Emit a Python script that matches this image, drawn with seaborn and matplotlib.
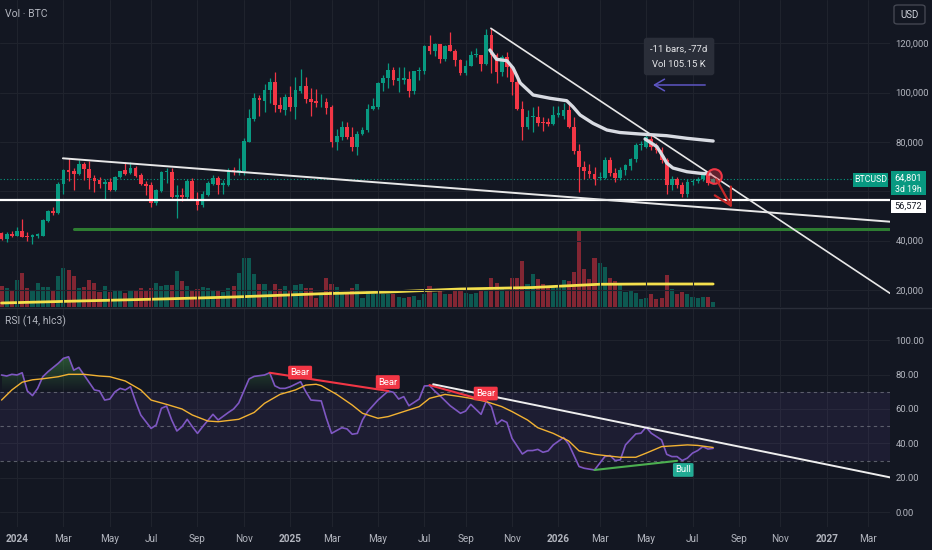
import numpy as np
import pandas as pd
import seaborn as sns
import matplotlib.pyplot as plt
import matplotlib.dates as mdates
from matplotlib.path import Path
from matplotlib.patches import PathPatch, Rectangle, FancyBboxPatch
from matplotlib.lines import Line2D

# weekly BTCUSD candles, first candle = week of 2023-12-11
first_week = '2023-12-11'

opens = [43300, 40700, 42800, 42000, 43900, 41900, 41500, 41800, 42000, 48000,
         52000, 51200, 62800, 68800, 68200, 66900, 71200, 69000, 65500, 64700,
         62800, 63900, 60700, 66000, 68500, 67300, 69600, 66600, 63100, 62500,
         55400, 60200, 67900, 68000, 57800, 58700, 57800, 64200, 56900, 54400,
         58500, 63000, 65500, 62600, 62600, 68800, 68000, 68200, 80100, 89300,
         97700, 96700, 101100, 104400, 95000, 93000, 98300, 94100, 100800, 102700,
         97400, 96600, 95700, 96300, 94300, 80100, 82200, 86000, 82100, 78000,
         83400, 84700, 93500, 94000, 103900, 106100, 109000, 104800, 105000, 105700,
         100500, 108600, 108600, 118900, 116900, 119600, 113800, 119200, 116900, 113100,
         108000, 110800, 115100, 115100, 111800, 123200, 115100, 108400, 114500, 110400,
         104300, 93500, 86000, 90100, 90100, 88100, 88000, 87400, 91100, 90400,
         93100, 86000, 76200, 69800, 68200, 67100, 65400, 65300, 72500, 67400,
         65300, 68500, 70300, 73200, 78600, 78000, 81300, 78000, 76600, 72800,
         62400, 65100, 62700, 59000, 63700, 64200, 65100, 67300, 63200]
highs = [43700, 43500, 44100, 45500, 48800, 43600, 42800, 43300, 48600, 52300,
         53500, 63900, 69000, 73400, 69300, 72700, 72000, 72300, 66500, 66000,
         64900, 65500, 66400, 68400, 71900, 71900, 70200, 67500, 64000, 63800,
         61000, 68200, 69300, 69400, 62600, 61400, 65000, 65500, 59700, 60000,
         64000, 66500, 66100, 64500, 69500, 69900, 73400, 81700, 93300, 99700,
         99000, 103500, 105800, 108400, 98200, 99300, 102800, 106200, 109500, 106500,
         101700, 101500, 99400, 97700, 95000, 85100, 88600, 88300, 86000, 84500,
         86000, 95500, 97800, 104300, 107000, 111900, 110400, 110400, 110500, 108900,
         108900, 110500, 119400, 123200, 120200, 119800, 119300, 124600, 117600, 113500,
         113400, 116700, 117900, 115400, 125600, 126100, 115900, 115300, 116300, 110900,
         107500, 96600, 93100, 94000, 94600, 90000, 89700, 94700, 94600, 95700,
         95700, 90000, 79300, 72200, 70900, 69800, 68000, 74100, 74000, 69300,
         69800, 71100, 73500, 79400, 80400, 83200, 82800, 79700, 77800, 73500,
         66200, 66000, 63600, 64800, 64800, 65900, 67200, 67800, 65500]
lows = [40300, 39600, 41500, 41700, 41300, 39900, 38500, 41200, 41900, 47700,
        50400, 50600, 59000, 64200, 60700, 66500, 64500, 60900, 59600, 61500,
        56900, 60000, 60200, 65500, 66500, 66900, 65900, 62400, 58500, 53500,
        54300, 59700, 63200, 57400, 49100, 56000, 57000, 56400, 52400, 53800,
        58000, 62600, 58800, 58800, 62200, 66600, 66800, 66800, 80000, 88600,
        90500, 92300, 95700, 92200, 92200, 91000, 92700, 89200, 99700, 95700,
        90500, 94000, 94000, 91200, 78100, 76600, 80700, 81200, 76300, 74600,
        83000, 84000, 92800, 93500, 100700, 102000, 103100, 100400, 103400, 98200,
        99600, 105300, 107500, 115700, 114800, 112000, 112700, 116800, 110800, 107300,
        107300, 110700, 114400, 108700, 111200, 108000, 103800, 106700, 106300, 98900,
        93000, 80600, 85300, 83900, 86300, 84500, 86600, 87000, 90000, 89500,
        85600, 75000, 59700, 65100, 65400, 62600, 64400, 64800, 66400, 63600,
        64500, 66700, 68600, 72000, 76600, 77500, 76900, 75500, 71500, 59000,
        60400, 61500, 57800, 57800, 62400, 63500, 64300, 62400, 62800]
closes = [40600, 42600, 42000, 43900, 41500, 41600, 42300, 42600, 48200, 52000,
          51200, 63100, 68800, 68000, 66900, 71200, 69000, 65300, 64200, 62800,
          63900, 60700, 66000, 68300, 67100, 69600, 66300, 62800, 62300, 55400,
          60500, 68000, 68200, 57800, 58700, 57800, 64200, 56900, 54400, 58800,
          63200, 65500, 62600, 63200, 68600, 68000, 68800, 80400, 89600, 97700,
          97000, 101100, 104400, 95000, 93200, 98100, 94100, 101100, 102700, 97300,
          96200, 95700, 96000, 93900, 80100, 82400, 86000, 82100, 78000, 83400,
          84700, 93500, 94700, 104000, 106100, 109000, 105000, 105800, 106000, 100500,
          108600, 109300, 118900, 116900, 119600, 113800, 118900, 116900, 113100, 108000,
          110800, 115100, 115500, 111800, 123200, 115100, 108400, 114500, 110400, 104300,
          93500, 86000, 90100, 90700, 87700, 87500, 87300, 91100, 91900, 93100,
          86000, 76200, 69800, 68200, 67000, 65100, 66000, 72500, 67400, 65300,
          68500, 70500, 73200, 78600, 79100, 82000, 78000, 76600, 72800, 62400,
          65100, 62400, 59000, 63700, 64200, 65100, 66500, 63200, 64801]
volume_k = [84, 76, 70, 108, 136, 76, 70, 96, 80, 80,
            64, 124, 156, 148, 124, 76, 80, 108, 96, 60,
            84, 60, 70, 64, 56, 70, 70, 76, 70, 78,
            96, 84, 90, 88, 144, 104, 84, 64, 72, 80,
            76, 64, 64, 60, 76, 84, 136, 196, 196, 132,
            92, 92, 64, 92, 72, 84, 68, 88, 91, 75,
            76, 36, 51, 115, 91, 80, 51, 51, 75, 91,
            36, 70, 52, 52, 51, 52, 51, 40, 36, 40,
            44, 28, 51, 84, 56, 64, 51, 52, 75, 75,
            56, 52, 56, 67, 75, 116, 96, 75, 64, 115,
            115, 184, 91, 131, 111, 91, 76, 80, 75, 107,
            104, 140, 304, 151, 111, 197, 177, 160, 117, 104,
            92, 60, 64, 56, 32, 36, 52, 32, 36, 128,
            72, 52, 60, 52, 40, 36, 40, 40, 20]

vol_ma_week = [0, 15, 31, 45, 62, 75, 89, 103, 116, 125, 138]
vol_ma_k = [16, 24, 32, 40, 53, 60, 72, 78, 91, 92, 92]

rsi_week = [0, 1, 2, 3, 4, 5, 6, 7, 8, 9, 11, 12, 13, 14, 15, 16, 18, 19, 20, 21,
            22, 23, 24, 25, 26, 27, 29, 30, 31, 32, 33, 34, 35, 36, 37, 38, 39, 41, 42, 44,
            45, 46, 47, 48, 49, 51, 52, 53, 54, 55, 56, 58, 59, 60, 62, 63, 64, 65, 66, 67,
            68, 69, 70, 71, 73, 75, 76, 77, 78, 79, 81, 82, 83, 84, 85, 87, 89, 90, 91, 93,
            94, 95, 96, 97, 98, 99, 101, 102, 103, 104, 105, 106, 107, 109, 110, 112, 113, 115, 117, 118,
            119, 120, 121, 123, 124, 125, 126, 128, 129, 130, 131, 132, 133, 134, 135, 136, 137, 138]
rsi_value = [79.8, 79.2, 80.2, 79.8, 81.1, 70.5, 67.8, 72.0, 78.8, 81.7, 86.6, 89.5, 90.4, 82.6, 84.2, 79.8, 71.1, 70.5, 65.2, 65.8,
             70.0, 72.0, 71.1, 73.0, 64.3, 56.5, 48.7, 50.7, 60.4, 61.7, 53.6, 47.2, 49.7, 54.0, 49.7, 45.8, 49.7, 56.9, 53.6, 58.0,
             60.0, 63.5, 70.5, 77.5, 79.0, 79.8, 81.1, 73.5, 72.0, 72.0, 73.0, 75.9, 70.1, 65.2, 64.7, 54.6, 45.8, 47.5, 49.1, 48.4,
             45.3, 45.8, 53.6, 58.5, 65.2, 70.5, 69.7, 65.8, 67.2, 61.9, 65.8, 73.4, 73.6, 70.5, 67.8, 61.9, 57.5, 58.8, 62.7, 56.9,
             64.7, 61.4, 51.1, 53.6, 52.2, 42.9, 33.8, 35.8, 35.8, 36.5, 34.8, 35.6, 39.1, 43.4, 39.5, 26.5, 25.5, 24.5, 32.3, 32.9,
             30.0, 30.4, 39.1, 45.5, 45.9, 49.4, 45.9, 42.0, 33.6, 32.3, 32.3, 30.0, 31.4, 34.3, 35.8, 38.1, 36.7, 37.1]
rsi_ma_week = [0, 2, 4, 6, 8, 11, 13, 16, 19, 21, 24, 27, 29, 32, 35, 37, 40, 42, 46, 49,
               51, 54, 57, 59, 61, 62, 65, 68, 70, 73, 75, 78, 81, 83, 86, 89, 91, 94, 97, 99,
               102, 104, 107, 110, 112, 115, 117, 120, 123, 125, 128, 130, 133, 135, 138]
rsi_ma_value = [65.2, 71.1, 75.6, 77.0, 77.6, 78.8, 80.2, 80.2, 79.2, 78.8, 76.3, 71.1, 65.2, 62.7, 60.0, 56.5, 53.0, 52.6, 54.0, 58.0,
                63.3, 68.5, 71.1, 73.9, 74.4, 73.6, 68.5, 62.3, 57.5, 54.6, 55.6, 58.5, 61.4, 66.2, 68.5, 67.2, 66.2, 64.3, 61.4, 58.5,
                53.6, 49.1, 45.8, 41.4, 35.6, 33.6, 32.9, 31.9, 31.9, 34.3, 38.1, 38.5, 39.1, 38.8, 37.6]

# chart drawings (x in weeks from first_week)
shallow_week = [11.9, 172.3]
shallow_price = [73380, 47680]
steep_week = [94.9, 172.3]
steep_price = [126080, 18650]
support_week = [14.1, 172.3]
support_price = [44800, 44800]
level_price = 56572
last_price = 64801
vwap_a_week = [94.7, 96.0, 98.0, 99.2, 100.6, 103.1, 106.4, 109.6, 110.8, 112.2, 114.7, 117.4, 119.9, 123.8, 129.0, 132.9, 138.0]
vwap_a_price = [117280, 113510, 112950, 109990, 103910, 99040, 97700, 96730, 94300, 90930, 87570, 84850, 83840, 83230, 82540, 81490, 80390]
vwap_b_week = [124.8, 127.1, 128.3, 129.0, 130.2, 132.9, 135.5, 137.4]
vwap_b_price = [81200, 78080, 74030, 71470, 69450, 67950, 67300, 67010]
measure_week = [137.0, 125.8]
measure_price = 103100
note_week, note_price = 131.4, 114650
circle_week, circle_price = 138.1, 66400
red_arrow_week = [138.4, 141.9]
red_arrow_price = [65800, 52400]

rsi_trend_week = [83.7, 172.3]
rsi_trend_value = [74.4, 20.2]
bear_week = [[52, 75], [83, 94]]
bear_value = [[81.1, 70.5], [73.9, 64.7]]
bear_label_week = [57.9, 74.9, 93.9]
bear_label_value = [81.2, 75.7, 69.0]
bull_week = [115, 131]
bull_value = [24.5, 29.8]
bull_label_week, bull_label_value = 132.2, 24.5

tick_dates = ['2024-01-01', '2024-03-04', '2024-05-06', '2024-07-01', '2024-09-02', '2024-11-04',
              '2025-01-06', '2025-03-03', '2025-05-05', '2025-07-07', '2025-09-01', '2025-11-03',
              '2026-01-05', '2026-03-02', '2026-05-04', '2026-07-06', '2026-09-07', '2026-11-02',
              '2027-01-04', '2027-03-01']
tick_labels = ['2024', 'Mar', 'May', 'Jul', 'Sep', 'Nov', '2025', 'Mar', 'May', 'Jul', 'Sep', 'Nov',
               '2026', 'Mar', 'May', 'Jul', 'Sep', 'Nov', '2027', 'Mar']
# 60,000 sits under the last-price labels, so it has no visible text
price_ticks = [20000, 40000, 60000, 80000, 100000, 120000]
price_tick_labels = ['20,000', '40,000', '', '80,000', '100,000', '120,000']
rsi_ticks = [0, 20, 40, 60, 80, 100]
rsi_tick_labels = ['0.00', '20.00', '40.00', '60.00', '80.00', '100.00']

sns.set_theme(style='dark')
plt.rcParams['font.family'] = ['Roboto', 'DejaVu Sans']

BG = '#131722'
GRID = '#1f232d'
TXT = '#b2b5be'
UP = '#089981'
DOWN = '#f23645'

t0 = mdates.date2num(pd.Timestamp(first_week))


def wk(w):
    return t0 + 7 * np.asarray(w, dtype=float)


W, H = 932, 550


def fx(x):
    return x / W


def fy(y):
    return 1 - y / H


def pane(x0, y0, x1, y1):
    return [fx(x0), fy(y1), (x1 - x0) / W, (y1 - y0) / H]


def gradient_fill(ax, x, y, level, edge, rgb, where):
    # fill between rsi and a level, fading out towards the level
    coll = ax.fill_between(x, y, level, where=where, interpolate=True,
                           facecolor='none', edgecolor='none')
    clip = PathPatch(Path.make_compound_path(*coll.get_paths()), transform=ax.transData,
                     facecolor='none', edgecolor='none')
    ax.add_patch(clip)
    img = np.zeros((64, 1, 4))
    img[:, 0, :3] = rgb
    img[:, 0, 3] = np.linspace(0, 0.6, 64)
    if edge < level:
        img = img[::-1]
    lo, hi = sorted((level, edge))
    im = ax.imshow(img, extent=[x.min(), x.max(), lo, hi], origin='lower',
                   aspect='auto', zorder=1, interpolation='bilinear')
    im.set_clip_path(clip)


df = pd.DataFrame({'open': opens, 'high': highs, 'low': lows, 'close': closes, 'volume': volume_k})
df['x'] = wk(np.arange(len(df)))
df['color'] = np.where(df['close'] >= df['open'], UP, DOWN)
body_low = df[['open', 'close']].min(axis=1)
body_h = (df['close'] - df['open']).abs().clip(lower=150)

fig = plt.figure(figsize=(9.32, 5.5), dpi=100, facecolor=BG)
ax_v = fig.add_axes(pane(0, 0, 890, 307))
ax_p = fig.add_axes(pane(0, 0, 890, 307), sharex=ax_v)
ax_r = fig.add_axes(pane(0, 308, 890, 527), sharex=ax_v)
for ax in (ax_v, ax_p, ax_r):
    ax.set_facecolor(BG)
    for s in ax.spines.values():
        s.set_visible(False)
ax_p.patch.set_alpha(0)

# volume
ax_v.bar(df['x'], df['volume'], width=5.6, color=df['color'], alpha=0.5, lw=0)
sns.lineplot(x=wk(vol_ma_week), y=vol_ma_k, ax=ax_v, color='#f4e04d', lw=2)
ax_v.set_ylim(0, 1228)
ax_v.set_yticks([])
ax_v.tick_params(axis='both', labelbottom=False, labelleft=False, length=0)
ax_v.set_xlabel('')

# candles
ax_p.vlines(df['x'], df['low'], df['high'], colors=df['color'], lw=0.9, zorder=3)
ax_p.bar(df['x'], body_h, bottom=body_low, width=5, color=df['color'], lw=0, zorder=3)

# drawings on price pane
ax_p.axhline(last_price, color=UP, lw=0.8, ls=(0, (1, 2)), zorder=2)
ax_p.axhline(level_price, color='white', lw=1.6, zorder=4)
ax_p.plot(wk(support_week), support_price, color='#2e7d32', lw=2.2, zorder=4)
ax_p.plot(wk(shallow_week), shallow_price, color='#e8e8e8', lw=1.4, zorder=4)
ax_p.plot(wk(steep_week), steep_price, color='#e8e8e8', lw=1.2, zorder=4)
ax_p.plot(wk(vwap_a_week), vwap_a_price, color='#d8dbe2', lw=2.4, zorder=4)
ax_p.plot(wk(vwap_b_week), vwap_b_price, color='#d8dbe2', lw=2.4, zorder=4)
ax_p.scatter(wk([circle_week]), [circle_price], s=110, facecolors=[(0.95, 0.21, 0.27, 0.35)],
             edgecolors='#f23645', linewidths=1.5, zorder=6)
ax_p.annotate('', xy=(wk(red_arrow_week[1]), red_arrow_price[1]),
              xytext=(wk(red_arrow_week[0]), red_arrow_price[0]),
              arrowprops=dict(arrowstyle='->,head_length=1.0,head_width=0.55', color='#c62828', lw=1.6),
              zorder=6)
ax_p.annotate('', xy=(wk(measure_week[1]), measure_price), xytext=(wk(measure_week[0]), measure_price),
              arrowprops=dict(arrowstyle='->,head_length=0.6,head_width=0.35', color='#5e56c4', lw=1.1),
              zorder=6)
ax_p.text(wk(note_week), note_price, '-11 bars, -77d\nVol 105.15 K', ha='center', va='center',
          color='#e6e7ea', fontsize=6.8, linespacing=1.9, zorder=7,
          bbox=dict(boxstyle='round,pad=0.7,rounding_size=0.3', fc='#2a2e39', ec='none'))

ax_p.set_ylim(13100, 137555)
ax_p.yaxis.tick_right()
ax_p.set_yticks(price_ticks, price_tick_labels)
ax_p.tick_params(axis='y', length=0, pad=4, labelsize=6.8, labelcolor=TXT)
ax_p.tick_params(axis='x', labelbottom=False, length=0)
ax_p.grid(True, color=GRID, lw=0.8)

# RSI pane
rx = wk(rsi_week)
ry = np.array(rsi_value)
ax_r.axhspan(30, 70, color='#7e57c2', alpha=0.1, lw=0)
for lvl in (70, 50, 30):
    ax_r.axhline(lvl, color='#787b86', lw=0.8, ls=(0, (3, 3)), alpha=0.7)
gradient_fill(ax_r, rx, ry, 70, 100, (0.30, 0.69, 0.31), ry > 70)
gradient_fill(ax_r, rx, ry, 30, 0, (0.95, 0.21, 0.27), ry < 30)
sns.lineplot(x=rx, y=ry, ax=ax_r, color='#7e57c2', lw=1.2, zorder=3)
sns.lineplot(x=wk(rsi_ma_week), y=rsi_ma_value, ax=ax_r, color='#f2b233', lw=1, zorder=3)

for bw, bv in zip(bear_week, bear_value):
    ax_r.plot(wk(bw), bv, color=DOWN, lw=1.5, zorder=4)
ax_r.plot(wk(bull_week), bull_value, color='#4caf50', lw=1.5, zorder=4)
ax_r.plot(wk(rsi_trend_week), rsi_trend_value, color='#eeeeee', lw=1.4, zorder=4)
for bw, bv in zip(bear_label_week, bear_label_value):
    ax_r.text(wk(bw), bv, 'Bear', ha='center', va='center', color='white', fontsize=6.8, zorder=6,
              bbox=dict(boxstyle='round,pad=0.25,rounding_size=0.15', fc=DOWN, ec='none'))
ax_r.text(wk(bull_label_week), bull_label_value, 'Bull', ha='center', va='center', color='white',
          fontsize=6.8, zorder=6,
          bbox=dict(boxstyle='round,pad=0.25,rounding_size=0.15', fc='#22ab94', ec='none'))

ax_r.set_ylim(-8.7, 118.8)
ax_r.yaxis.tick_right()
ax_r.set_yticks(rsi_ticks, rsi_tick_labels)
ax_r.tick_params(axis='y', length=0, pad=4, labelsize=6.8, labelcolor=TXT)
ax_r.set_xticks(mdates.date2num(pd.to_datetime(tick_dates)), tick_labels)
ax_r.tick_params(axis='x', length=0, pad=5, labelsize=7.2, labelcolor=TXT)
ax_r.grid(True, color=GRID, lw=0.8)
ax_r.set_xlabel('')
ax_r.set_ylabel('')
for lbl in ax_r.get_xticklabels():
    if lbl.get_text().isdigit():
        lbl.set_fontweight('bold')

ax_r.set_xlim(wk(-0.3), wk(172.3))

# pane labels and price scale boxes
fig.add_artist(Line2D([0, 1], [fy(307.5)] * 2, color='#2a2e39', lw=1, transform=fig.transFigure))
fig.text(fx(5), fy(14), 'Vol · BTC', color=TXT, fontsize=7.5, ha='left', va='center')
fig.text(fx(5), fy(321), 'RSI (14, hlc3)', color=TXT, fontsize=7.5, ha='left', va='center')

fig.add_artist(FancyBboxPatch((fx(894), fy(24)), fx(31), 19 / H, boxstyle='round,pad=0,rounding_size=0.004',
                              fc=BG, ec='#434651', lw=1, transform=fig.transFigure))
fig.text(fx(909.5), fy(14.5), 'USD', color='#d1d4dc', fontsize=7, ha='center', va='center')

fig.add_artist(Rectangle((fx(853), fy(187)), fx(35), 14 / H, fc=UP, ec='none', transform=fig.transFigure))
fig.text(fx(870.5), fy(180), 'BTCUSD', color='white', fontsize=6.3, ha='center', va='center')
fig.add_artist(Rectangle((fx(891), fy(194.5)), fx(35), 23 / H, fc=UP, ec='none', transform=fig.transFigure))
fig.text(fx(908.5), fy(178), '64,801', color='white', fontsize=6.6, ha='center', va='center')
fig.text(fx(908.5), fy(189), '3d 19h', color='white', fontsize=6.3, ha='center', va='center')
fig.add_artist(Rectangle((fx(891), fy(213)), fx(35), 13 / H, fc='white', ec='none', transform=fig.transFigure))
fig.text(fx(908.5), fy(206.5), '56,572', color='#131722', fontsize=6.6, ha='center', va='center')

fig.savefig('out.png', dpi=100, facecolor=BG)
